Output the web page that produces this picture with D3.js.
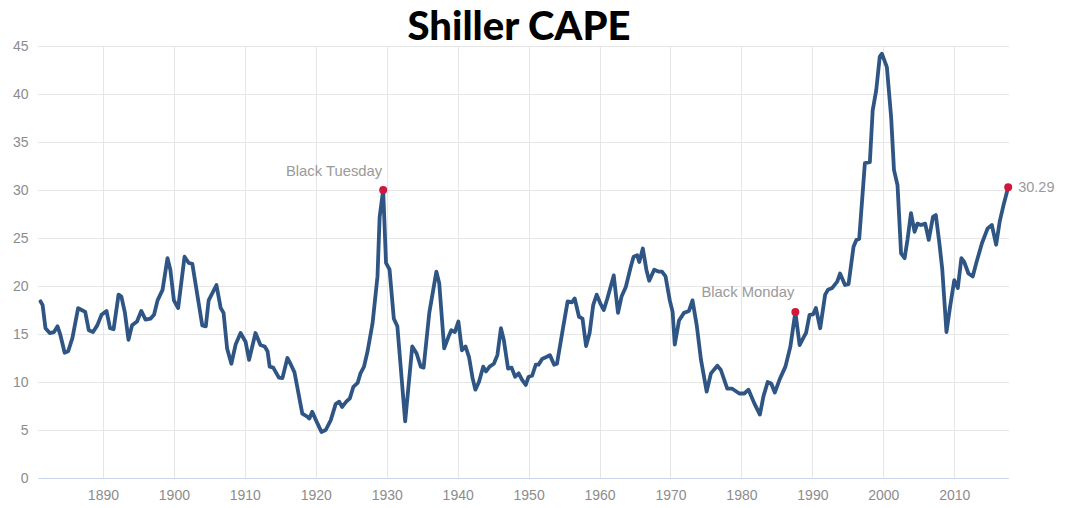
<!DOCTYPE html>
<html>
<head>
<meta charset="utf-8">
<script src="https://cdn.jsdelivr.net/npm/d3@7"></script>
<style>
  body { margin: 0; background: #ffffff; }
  svg { display: block; }
</style>
</head>
<body>
<div id="chart"></div>
<script>
(function() {
  "use strict";

  // data (year, CAPE)
  var years = [
    1881.2, 1881.5, 1881.9, 1882.5, 1883.1, 1883.6, 1884.0, 1884.6, 1885.1, 1885.7,
    1886.5, 1887.0, 1887.5, 1888.0, 1888.6, 1889.2, 1889.8, 1890.5, 1891.0, 1891.5,
    1892.2, 1892.6, 1893.1, 1893.6, 1894.1, 1894.8, 1895.4, 1896.0, 1896.7, 1897.2,
    1897.7, 1898.4, 1899.1, 1899.5, 1900.0, 1900.6, 1901.5, 1902.1, 1902.6, 1903.8,
    1904.0, 1904.5, 1904.9, 1906.0, 1906.6, 1907.0, 1907.5, 1908.1, 1908.7, 1909.4,
    1910.1, 1910.6, 1911.5, 1912.2, 1912.8, 1913.2, 1913.5, 1914.0, 1914.8, 1915.3,
    1916.0, 1916.5, 1917.0, 1918.1, 1918.8, 1919.1, 1919.5, 1920.1, 1920.8, 1921.4,
    1922.1, 1922.8, 1923.3, 1923.7, 1924.3, 1924.8, 1925.3, 1925.9, 1926.3, 1926.8,
    1927.3, 1928.0, 1928.7, 1929.0, 1929.5, 1929.9, 1930.4, 1931.0, 1931.5, 1932.6,
    1933.6, 1934.2, 1934.8, 1935.2, 1936.0, 1937.0, 1937.4, 1938.1, 1938.7, 1939.1,
    1939.6, 1940.1, 1940.6, 1941.1, 1941.6, 1942.1, 1942.5, 1943.0, 1943.6, 1944.0,
    1944.5, 1945.1, 1945.6, 1946.1, 1946.5, 1947.1, 1947.6, 1948.1, 1948.6, 1949.1,
    1949.6, 1950.0, 1950.5, 1951.0, 1951.4, 1951.9, 1952.5, 1953.0, 1953.6, 1954.0,
    1954.8, 1955.5, 1956.1, 1956.5, 1957.1, 1957.6, 1958.1, 1958.6, 1959.1, 1959.6,
    1960.1, 1960.6, 1961.1, 1962.0, 1962.6, 1963.1, 1963.7, 1964.4, 1964.8, 1965.3,
    1965.6, 1966.1, 1966.6, 1967.0, 1967.7, 1968.3, 1968.8, 1969.3, 1969.9, 1970.3,
    1970.6, 1971.2, 1971.9, 1972.6, 1973.1, 1973.7, 1974.3, 1975.1, 1975.7, 1976.6,
    1977.1, 1978.0, 1978.7, 1979.7, 1980.4, 1981.0, 1981.8, 1982.6, 1983.1, 1983.7,
    1984.2, 1984.7, 1985.4, 1986.2, 1986.9, 1987.6, 1988.2, 1988.8, 1989.1, 1989.6,
    1990.1, 1990.5, 1991.1, 1991.8, 1992.2, 1992.8, 1993.5, 1993.9, 1994.6, 1995.1,
    1995.8, 1996.2, 1996.6, 1997.4, 1998.1, 1998.5, 1999.0, 1999.5, 1999.8, 2000.5,
    2001.1, 2001.5, 2002.0, 2002.5, 2003.0, 2003.4, 2003.9, 2004.4, 2004.8, 2005.3,
    2005.9, 2006.4, 2007.0, 2007.4, 2007.9, 2008.3, 2008.9, 2009.4, 2010.0, 2010.5,
    2011.0, 2011.4, 2012.0, 2012.6, 2013.1, 2013.9, 2014.7, 2015.3, 2015.9, 2016.4,
    2016.9, 2017.6
  ];
  var cape = [
    18.4, 18.0, 15.6, 15.1, 15.2, 15.8, 14.9, 13.05, 13.2, 14.6,
    17.7, 17.5, 17.3, 15.4, 15.2, 15.9, 17.0, 17.4, 15.6, 15.5,
    19.1, 18.9, 17.2, 14.4, 15.9, 16.3, 17.4, 16.5, 16.6, 17.0,
    18.5, 19.6, 22.9, 21.7, 18.5, 17.7, 23.05, 22.4, 22.3, 16.8,
    15.9, 15.8, 18.5, 20.1, 17.7, 17.2, 13.5, 11.9, 13.9, 15.1,
    14.2, 12.3, 15.1, 13.85, 13.7, 13.2, 11.6, 11.5, 10.45, 10.4,
    12.5, 11.8, 11.0, 6.7, 6.4, 6.2, 6.9, 5.9, 4.8, 5.0,
    6.0, 7.7, 7.95, 7.4, 7.95, 8.3, 9.5, 9.9, 10.9, 11.6,
    13.2, 16.1, 21.0, 27.2, 30.0, 22.4, 21.7, 16.6, 15.8, 5.9,
    13.7, 13.0, 11.6, 11.5, 17.2, 21.5, 20.3, 13.5, 14.7, 15.4,
    15.2, 16.3, 13.3, 13.7, 12.6, 10.4, 9.2, 10.0, 11.6, 11.1,
    11.6, 11.9, 12.8, 15.6, 14.4, 11.4, 11.5, 10.55, 10.9, 10.2,
    9.7, 10.55, 10.65, 11.8, 11.8, 12.4, 12.6, 12.8, 11.8, 11.9,
    15.4, 18.4, 18.3, 18.7, 16.8, 16.6, 13.75, 15.1, 18.0, 19.1,
    18.2, 17.5, 18.7, 21.1, 17.2, 18.9, 19.9, 22.0, 23.05, 23.2,
    22.5, 23.9, 21.7, 20.55, 21.7, 21.5, 21.5, 21.0, 18.5, 17.3,
    13.9, 16.4, 17.2, 17.4, 18.5, 15.9, 12.3, 9.0, 10.9, 11.7,
    11.25, 9.3, 9.3, 8.8, 8.8, 9.2, 7.8, 6.6, 8.5, 10.0,
    9.85, 8.9, 10.3, 11.6, 13.7, 17.3, 13.85, 14.7, 15.1, 17.0,
    17.05, 17.7, 15.6, 19.1, 19.6, 19.8, 20.45, 21.3, 20.1, 20.2,
    24.1, 24.8, 24.9, 32.8, 32.9, 38.3, 40.4, 43.9, 44.2, 42.8,
    37.6, 32.1, 30.5, 23.4, 22.9, 24.8, 27.6, 25.65, 26.5, 26.35,
    26.5, 24.8, 27.2, 27.4, 24.45, 21.8, 15.2, 17.8, 20.6, 19.8,
    22.9, 22.5, 21.3, 21.0, 22.4, 24.45, 26.0, 26.35, 24.3, 26.7,
    28.3, 30.29
  ];

  var xTicks = [1890, 1900, 1910, 1920, 1930, 1940, 1950, 1960, 1970, 1980, 1990, 2000, 2010];
  var yTicks = [0, 5, 10, 15, 20, 25, 30, 35, 40, 45];

  // marked points: index into the series + label
  var markIdx = [84, 185];
  var markLabels = ["Black Tuesday", "Black Monday"];
  var lastIdx = years.length - 1;

  var width = 1074, height = 508;
  var x = d3.scaleLinear().domain([1881, 2017.7]).range([39.1, 1008.9]);
  var y = d3.scaleLinear().domain([0, 45]).range([478, 46]);

  var points = years.map(function(yr, i) { return { year: yr, value: cape[i] }; });

  var svg = d3.select('#chart').append('svg')
    .attr('width', width)
    .attr('height', height);

  // horizontal grid
  svg.append('g')
    .selectAll('line')
    .data(yTicks.filter(function(d) { return d > 0; }))
    .enter()
    .append('line')
    .attr('x1', x.range()[0] - 1)
    .attr('x2', x.range()[1])
    .attr('y1', function(d) { return Math.round(y(d)) + 0.5; })
    .attr('y2', function(d) { return Math.round(y(d)) + 0.5; })
    .style('stroke', '#e6e6e6')
    .style('stroke-width', 1);

  // vertical grid
  svg.append('g')
    .selectAll('line')
    .data(xTicks)
    .enter()
    .append('line')
    .attr('x1', function(d) { return Math.round(x(d)) + 0.5; })
    .attr('x2', function(d) { return Math.round(x(d)) + 0.5; })
    .attr('y1', y(45))
    .attr('y2', y(0))
    .style('stroke', '#e6e6e6')
    .style('stroke-width', 1);

  // x axis
  var xAxis = d3.axisBottom(x)
    .tickValues(xTicks)
    .tickSize(0)
    .tickPadding(12)
    .tickFormat(d3.format('d'));
  var gx = svg.append('g')
    .attr('transform', 'translate(0,' + (Math.round(y(0)) + 0.5) + ')')
    .call(xAxis);
  gx.select('.domain')
    .attr('d', 'M' + (x.range()[0] - 1) + ',0H' + x.range()[1])
    .style('stroke', '#ccd6eb');
  gx.selectAll('text')
    .style('font-family', '"Liberation Sans", Arial, sans-serif')
    .style('font-size', '14px')
    .style('fill', '#8c8c8c');

  // y axis
  var yAxis = d3.axisLeft(y)
    .tickValues(yTicks)
    .tickSize(0)
    .tickPadding(10);
  var gy = svg.append('g')
    .attr('transform', 'translate(' + 38.5 + ',0)')
    .call(yAxis);
  gy.select('.domain').remove();
  gy.selectAll('text')
    .style('font-family', '"Liberation Sans", Arial, sans-serif')
    .style('font-size', '14px')
    .style('fill', '#8c8c8c');

  // the series
  var line = d3.line()
    .x(function(d) { return x(d.year); })
    .y(function(d) { return y(d.value); });

  svg.append('path')
    .datum(points)
    .attr('d', line)
    .style('fill', 'none')
    .style('stroke', '#2f5584')
    .style('stroke-width', 3.8)
    .style('stroke-linejoin', 'round')
    .style('stroke-linecap', 'round');

  // marked points
  var marks = markIdx.map(function(idx, i) { return { p: points[idx], label: markLabels[i] }; });
  svg.append('g')
    .selectAll('text')
    .data(marks)
    .enter()
    .append('text')
    .attr('x', function(d) { return x(d.p.year) - 1; })
    .attr('y', function(d) { return y(d.p.value) - 14.5; })
    .attr('text-anchor', 'end')
    .style('font-family', '"Liberation Sans", Arial, sans-serif')
    .style('font-size', '14.8px')
    .style('fill', '#9a9a9a')
    .text(function(d) { return d.label; });

  svg.append('text')
    .attr('x', x(points[lastIdx].year) + 10)
    .attr('y', y(points[lastIdx].value))
    .attr('dy', '0.35em')
    .style('font-family', '"Liberation Sans", Arial, sans-serif')
    .style('font-size', '14.5px')
    .style('fill', '#9a9a9a')
    .text(d3.format('.2f')(points[lastIdx].value));

  svg.append('g')
    .selectAll('circle')
    .data(markIdx.concat([lastIdx]))
    .enter()
    .append('circle')
    .attr('cx', function(d) { return x(points[d].year); })
    .attr('cy', function(d) { return y(points[d].value); })
    .attr('r', 4)
    .style('fill', '#d0173c');

  // title
  svg.append('text')
    .attr('x', 519)
    .attr('y', 40)
    .attr('text-anchor', 'middle')
    .style('font-family', 'Lato, "Open Sans", sans-serif')
    .style('font-weight', '900')
    .style('font-size', '40px')
    .style('fill', '#000000')
    .text('Shiller CAPE');
})();
</script>
</body>
</html>
